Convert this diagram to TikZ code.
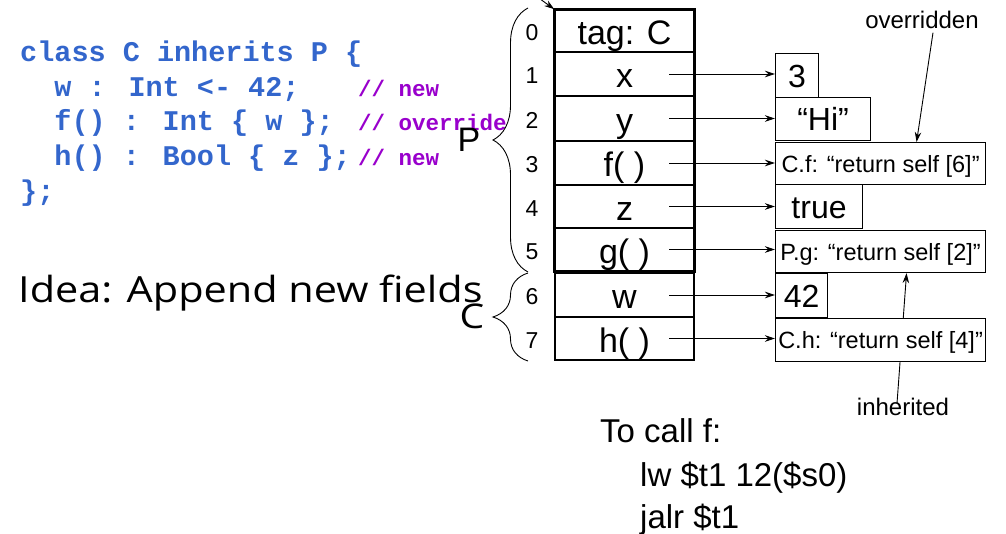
\documentclass[tikz,border=0pt]{standalone}
\usepackage{fontspec}
\setmainfont{Liberation Sans}
\newfontfamily\codefont{Liberation Mono}
\newfontfamily\comicfont[FakeStretch=1.15]{Open Sans}
\usetikzlibrary{arrows.meta,decorations.pathreplacing}
\definecolor{codeblue}{RGB}{51,102,204}
\definecolor{cmtpurple}{RGB}{153,0,204}
\tikzset{
  code/.style={anchor=base west, inner sep=0pt, font=\codefont\bfseries\fontsize{28.5}{30}\selectfont, text=codeblue},
  cmt/.style={anchor=base west, inner sep=0pt, font=\codefont\bfseries\fontsize{22.5}{24}\selectfont, text=cmtpurple},
  rowbox/.style={draw, line width=1.6pt, minimum width=139pt, inner sep=0pt, text height=28pt, text depth=0pt, font=\fontsize{34}{36}\selectfont},
  lowbox/.style={draw, line width=1.1pt, minimum width=139pt, inner sep=0pt, text height=28pt, text depth=0pt, font=\fontsize{34}{36}\selectfont},
  idx/.style={inner sep=0pt, text height=20pt, text depth=0pt, font=\fontsize{23}{24}\selectfont},
  bigval/.style={draw, line width=1.1pt, anchor=north west, inner sep=0pt, text height=23pt, text depth=0pt, font=\fontsize{32}{34}\selectfont},
  smallval/.style={draw, line width=1.1pt, anchor=north west, inner sep=0pt, text height=17pt, text depth=0pt, font=\fontsize{23.5}{25}\selectfont, fill=white},
  lbl/.style={inner sep=0pt, font=\fontsize{24}{26}\selectfont},
  arr/.style={-{Stealth[length=10pt,width=6.5pt]}, line width=0.9pt},
  brc/.style={decorate, decoration={brace, amplitude=35pt}, line width=0.9pt},
  asm/.style={anchor=base west, inner sep=0pt, font=\fontsize{33}{35}\selectfont},
}
\begin{document}
\begin{tikzpicture}[x=1pt,y=-1pt]
\useasboundingbox (0,0) rectangle (1006,534);

% code
\node[code] (c1) at (20,62) {class C inherits P \{};
\node[code] (c2) at (20,97) {\ \ w : Int <- 42;};
\node[code] (c3) at (20,131) {\ \ f() : Int \{ w \};};
\node[code] (c4) at (20,166) {\ \ h() : Bool \{ z \};};
\node[code] (c5) at (20,201) {\};};
\node[cmt] (m2) at (358,97) {// new};
\node[cmt] (m3) at (358,131) {// override};
\node[cmt] (m4) at (358,166) {// new};

\node[anchor=base west, inner sep=0pt, font=\comicfont\fontsize{36}{38}\selectfont] (idea) at (18,303) {Idea: Append new fields};

% object layout
\node[rowbox, minimum height=42pt] (r0) at (624.5,31) {tag: C};
\node[rowbox, minimum height=44pt] (r1) at (624.5,74) {x};
\node[rowbox, minimum height=45pt] (r2) at (624.5,118.5) {y};
\node[rowbox, minimum height=44pt] (r3) at (624.5,163) {f( )};
\node[rowbox, minimum height=43pt] (r4) at (624.5,206.5) {z};
\node[rowbox, minimum height=43pt] (r5) at (624.5,249.5) {g( )};
\draw[line width=3pt] (r0.north west) rectangle (r5.south east);
\node[lowbox, minimum height=44pt] (r6) at (624.5,295) {w};
\node[lowbox, minimum height=43pt] (r7) at (624.5,338.5) {h( )};

\foreach \i/\y in {0/31,1/74,2/118.5,3/163,4/206.5,5/249.5,6/295,7/338.5}
  \node[idx] (n\i) at (532,\y) {\i};

% braces
\draw[brc] (528,272) -- (528,8);
\draw[brc] (528,361) -- (528,273);
\node[inner sep=0pt, font=\fontsize{34}{36}\selectfont] (P) at (469,140) {P};
\node[inner sep=0pt, font=\comicfont\fontsize{34}{36}\selectfont] (C) at (472,316) {C};

% top arrow
\coordinate (topsrc) at (536,-4);
\draw[arr] (topsrc) -- (r0.north west);

% values
\node[bigval, minimum width=43pt, minimum height=44pt] (v1) at (775,53) {3};
\node[bigval, minimum width=95pt, minimum height=43pt] (v2) at (775,97) {``Hi''};
\node[smallval, minimum width=210pt, minimum height=42pt] (v3) at (775,142) {C.f: ``return self [6]''};
\node[bigval, minimum width=87pt, minimum height=44pt] (v4) at (775,184) {true};
\node[smallval, minimum width=210pt, minimum height=42pt] (v5) at (775,230) {P.g: ``return self [2]''};
\node[bigval, minimum width=52pt, minimum height=44pt] (v6) at (775,273) {42};

\node[lbl, text height=17pt, text depth=0pt] (ovr) at (922,20) {overridden};
\node[lbl, text height=17pt, text depth=0pt] (inh) at (903,407) {inherited};
\draw[arr] ([xshift=-6pt,yshift=-5pt]inh.north) -- ([xshift=26pt]v5.south);
\node[smallval, minimum width=210pt, minimum height=43pt] (v7) at (775,318) {C.h: ``return self [4]''};
\draw[arr] ([xshift=11pt,yshift=-4pt]ovr.south) -- ([xshift=36pt]v3.north);

\foreach \i in {1,...,7}
  \draw[arr] ([xshift=44.5pt]r\i.center) -- (r\i.center -| v\i.west);

% call sequence
\node[asm] (t1) at (600,442) {To call f:};
\node[asm] (t2) at (640,486) {lw \$t1 12(\$s0)};
\node[asm] (t3) at (640,528) {jalr \$t1};
\end{tikzpicture}
\end{document}
